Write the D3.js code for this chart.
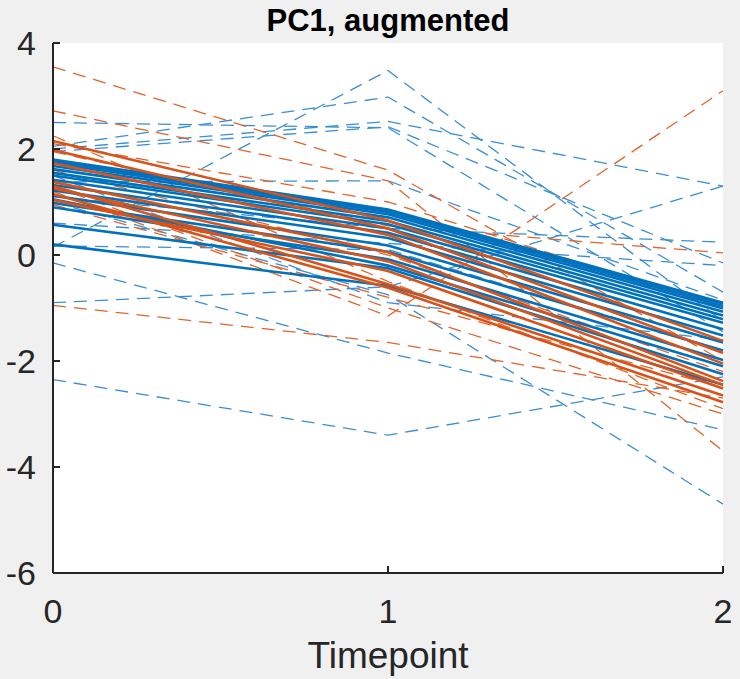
<!DOCTYPE html>
<html><head><meta charset="utf-8">
<script src="https://cdn.jsdelivr.net/npm/d3@7"></script>
<style>html,body{margin:0;padding:0;background:#f0f0f0;}</style>
</head><body>
<script>
const timepoints = [0, 1, 2];
const xTicks = [0, 1, 2];
const yTicks = [-6, -4, -2, 0, 2, 4];
const titleText = "PC1, augmented";
const xLabel = "Timepoint";

const blueSolid = [
  [1.80, 0.86, -0.90],
  [1.77, 0.84, -0.92],
  [1.73, 0.81, -0.96],
  [1.68, 0.77, -1.01],
  [1.62, 0.71, -1.07],
  [1.55, 0.64, -1.14],
  [1.50, 0.58, -1.21],
  [1.42, 0.50, -1.28],
  [1.32, 0.42, -1.40],
  [1.22, 0.32, -1.52],
  [1.12, 0.18, -1.65],
  [0.98, 0.06, -1.80],
  [0.90, -0.08, -1.98],
  [1.05, -0.20, -2.10],
  [0.57, -0.25, -2.25],
  [0.20, -0.58, -2.45]
];
const orangeSolid = [
  [2.15, 0.65, -1.62],
  [1.98, 0.50, -1.85],
  [1.73, 0.38, -2.05],
  [1.38, 0.05, -2.38],
  [1.26, -0.12, -2.45],
  [1.04, -0.30, -2.52],
  [1.30, -0.55, -2.65],
  [1.15, -0.62, -2.78]
];
const blueDashed = [
  [0.15, 3.48, -1.25],
  [2.05, 2.98, -0.70],
  [2.00, 2.52, 1.30],
  [1.95, 2.42, -0.15],
  [2.50, 2.40, -1.45],
  [1.38, 1.40, -0.85],
  [1.10, 0.50, 0.24],
  [0.60, 0.22, -0.20],
  [0.17, 0.10, -1.80],
  [-0.15, -1.85, -3.30],
  [-0.90, -0.60, 1.30],
  [-2.35, -3.40, -2.30],
  [1.00, -0.75, -4.70],
  [1.50, -0.90, -1.60]
];
const orangeDashed = [
  [3.55, 1.60, -2.00],
  [2.72, 1.40, -3.70],
  [2.25, -0.50, -2.90],
  [2.10, 1.00, -1.00],
  [1.95, 0.55, 0.04],
  [1.20, -1.15, 3.10],
  [0.95, -0.80, -2.50],
  [-0.95, -1.65, -2.70],
  [1.60, 0.00, -2.20],
  [1.30, -1.00, -3.00]
];

const W = 740, H = 679;
const margin = {left: 53, right: 17, top: 43, bottom: 106};
const svg = d3.select("body").append("svg").attr("width", W).attr("height", H)
  .style("background", "#f0f0f0");

const x = d3.scaleLinear().domain([0, 2]).range([margin.left, W - margin.right]);
const y = d3.scaleLinear().domain([-6, 4]).range([H - margin.bottom, margin.top]);

svg.append("rect").attr("x", x(0)).attr("y", y(4))
  .attr("width", x(2) - x(0)).attr("height", y(-6) - y(4)).attr("fill", "#ffffff");

const blue = "#0072BD", orange = "#D95319";
const line = d3.line().x((d, i) => x(timepoints[i])).y(d => y(d));
const g = svg.append("g");

function draw(data, color, width, dash) {
  g.selectAll(null).data(data).enter().append("path")
    .attr("d", line).attr("fill", "none").attr("stroke", color)
    .attr("stroke-width", width).attr("stroke-dasharray", dash);
}
draw(blueDashed, "#3a8ed4", 1.3, "13,8");
draw(orangeDashed, "#e0642c", 1.3, "13,8");
draw(blueSolid, blue, 2.6, null);
draw(orangeSolid, orange, 2.6, null);

const font = "'Liberation Sans', Arial, Helvetica, sans-serif";
const ink = "#262626";

svg.append("line").attr("x1", x(0)).attr("x2", x(0)).attr("y1", y(4)).attr("y2", y(-6))
  .attr("stroke", ink).attr("stroke-width", 2);
svg.append("line").attr("x1", x(0)).attr("x2", x(2)).attr("y1", y(-6)).attr("y2", y(-6))
  .attr("stroke", ink).attr("stroke-width", 2);

svg.selectAll(null).data(yTicks).enter().append("line")
  .attr("x1", x(0)).attr("x2", x(0) + 7).attr("y1", d => y(d)).attr("y2", d => y(d))
  .attr("stroke", ink).attr("stroke-width", 2);
svg.selectAll(null).data(xTicks).enter().append("line")
  .attr("x1", d => x(d)).attr("x2", d => x(d)).attr("y1", y(-6)).attr("y2", y(-6) - 7)
  .attr("stroke", ink).attr("stroke-width", 2);

svg.selectAll(null).data(yTicks).enter().append("text")
  .attr("x", x(0) - 17).attr("y", d => y(d)).attr("dy", "0.36em")
  .attr("text-anchor", "end").attr("font-family", font).attr("font-size", 34)
  .attr("fill", ink).text(d => d);
svg.selectAll(null).data(xTicks).enter().append("text")
  .attr("x", d => x(d)).attr("y", y(-6) + 50)
  .attr("text-anchor", "middle").attr("font-family", font).attr("font-size", 34)
  .attr("fill", ink).text(d => d);

svg.append("text").attr("x", x(1)).attr("y", H - 11).attr("text-anchor", "middle")
  .attr("font-family", font).attr("font-size", 37).attr("fill", ink).text(xLabel);
svg.append("text").attr("x", x(1)).attr("y", 31).attr("text-anchor", "middle")
  .attr("font-family", font).attr("font-size", 31).attr("font-weight", "bold")
  .attr("fill", "#000").text(titleText);
</script>
</body></html>
